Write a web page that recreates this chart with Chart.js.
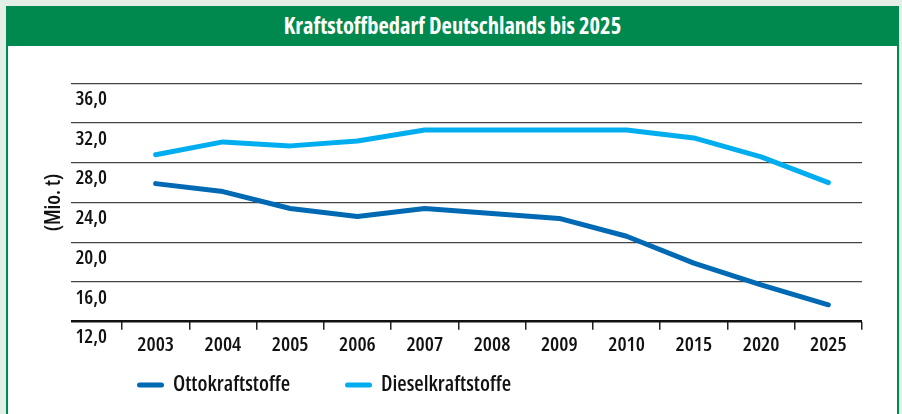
<!DOCTYPE html>
<html lang="de">
<head>
<meta charset="utf-8">
<title>Kraftstoffbedarf Deutschlands bis 2025</title>
<script src="https://cdn.jsdelivr.net/npm/chart.js@4.4.1/dist/chart.umd.min.js"></script>
<style>
  html, body { margin: 0; padding: 0; }
  body {
    width: 902px; height: 414px; overflow: hidden; position: relative;
    background: #e2eee6;
    font-family: "Open Sans", sans-serif;
  }
  #rahmen {
    position: absolute; left: 6px; top: 6px; width: 893px; height: 440px;
    box-sizing: border-box; border: 2.5px solid #00894f; background: #fff;
  }
  #titel {
    position: absolute; left: 6px; top: 6px; width: 893px; height: 40px;
    background: #00894f; color: #fff; font-weight: 700; font-stretch: condensed;
    font-size: 22.5px; line-height: 40px; text-align: center;
  }
  #wrap { position: absolute; left: 0; top: 0; width: 902px; height: 414px; }
</style>
</head>
<body>
<div id="rahmen"></div>
<div id="titel">Kraftstoffbedarf Deutschlands bis 2025</div>
<div id="wrap"><canvas id="chart-kraftstoff"></canvas></div>

<script>
// Daten (Mio. t)
const jahre = ['2003', '2004', '2005', '2006', '2007', '2008', '2009', '2010', '2015', '2020', '2025'];
const ottokraftstoffe = [25.9, 25.1, 23.4, 22.6, 23.4, 22.9, 22.4, 20.6, 17.9, 15.7, 13.7];
const dieselkraftstoffe = [28.8, 30.1, 29.7, 30.2, 31.3, 31.3, 31.3, 31.3, 30.5, 28.6, 26.0];
const yMin = 12;
const yMax = 36;
const yStep = 4;

const schrift = '"Open Sans", sans-serif';
const schnitt = '600 condensed'; // schmale Schrift wie im Original
const farbeOtto = '#0069b4';
const farbeDiesel = '#00aeef';

// Legende unten links (eigene Zeichnung, feste Abstaende wie im Original)
const legendeX = [137, 345];
const legendeY = 385;
const legendeUnten = {
  id: 'legendeUnten',
  afterDraw(chart) {
    const ctx = chart.ctx;
    ctx.save();
    chart.data.datasets.forEach((ds, i) => {
      const x = legendeX[i];
      ctx.strokeStyle = ds.borderColor;
      ctx.lineWidth = 5;
      ctx.lineCap = 'round';
      ctx.beginPath();
      ctx.moveTo(x + 2.5, legendeY);
      ctx.lineTo(x + 24.5, legendeY);
      ctx.stroke();
      ctx.fillStyle = '#111';
      ctx.font = schnitt + ' 21.5px ' + schrift;
      ctx.textBaseline = 'middle';
      ctx.fillText(ds.label, x + 36, legendeY);
    });
    ctx.restore();
  }
};

const ctx = document.getElementById('chart-kraftstoff').getContext('2d');
const chartKraftstoff = new Chart(ctx, {
  type: 'line',
  data: {
    labels: jahre,
    datasets: [
      {
        label: 'Ottokraftstoffe',
        data: ottokraftstoffe,
        borderColor: farbeOtto,
        backgroundColor: farbeOtto,
        borderWidth: 5,
        borderCapStyle: 'round',
        borderJoinStyle: 'round',
        pointRadius: 0,
        tension: 0
      },
      {
        label: 'Dieselkraftstoffe',
        data: dieselkraftstoffe,
        borderColor: farbeDiesel,
        backgroundColor: farbeDiesel,
        borderWidth: 5,
        borderCapStyle: 'round',
        borderJoinStyle: 'round',
        pointRadius: 0,
        tension: 0
      }
    ]
  },
  options: {
    responsive: true,
    maintainAspectRatio: false,
    animation: false,
    layout: {
      padding: { left: 41, right: 40, top: 83.3, bottom: 52.3 }
    },
    scales: {
      x: {
        type: 'category',
        offset: true,
        border: { display: false },
        grid: {
          offset: true,
          drawOnChartArea: false,
          drawTicks: true,
          tickLength: 8,
          color: '#222',
          lineWidth: 1.5
        },
        ticks: {
          color: '#111',
          font: { family: schrift, size: 20.5, weight: schnitt },
          padding: 3,
          maxRotation: 0,
          autoSkip: false
        },
        afterFit: (scale) => { scale.height = 40; }
      },
      y: {
        min: yMin,
        max: yMax,
        border: { display: false },
        grid: {
          drawTicks: true,
          tickLength: 51,
          color: (c) => c.tick && c.tick.value === yMin ? '#111' : '#444',
          lineWidth: (c) => c.tick && c.tick.value === yMin ? 2.5 : 1.3
        },
        ticks: {
          stepSize: yStep,
          color: '#111',
          font: { family: schrift, size: 20, weight: schnitt },
          padding: -36,
          labelOffset: 16,
          crossAlign: 'near',
          callback: (v) => v.toFixed(1).replace('.', ',')
        },
        title: {
          display: true,
          text: '(Mio. t)',
          color: '#111',
          font: { family: schrift, size: 21, weight: schnitt },
          padding: 0
        },
        afterFit: (scale) => { scale.width = 81; }
      }
    },
    plugins: {
      legend: { display: false },
      tooltip: { enabled: false }
    }
  },
  plugins: [legendeUnten]
});
</script>
</body>
</html>
